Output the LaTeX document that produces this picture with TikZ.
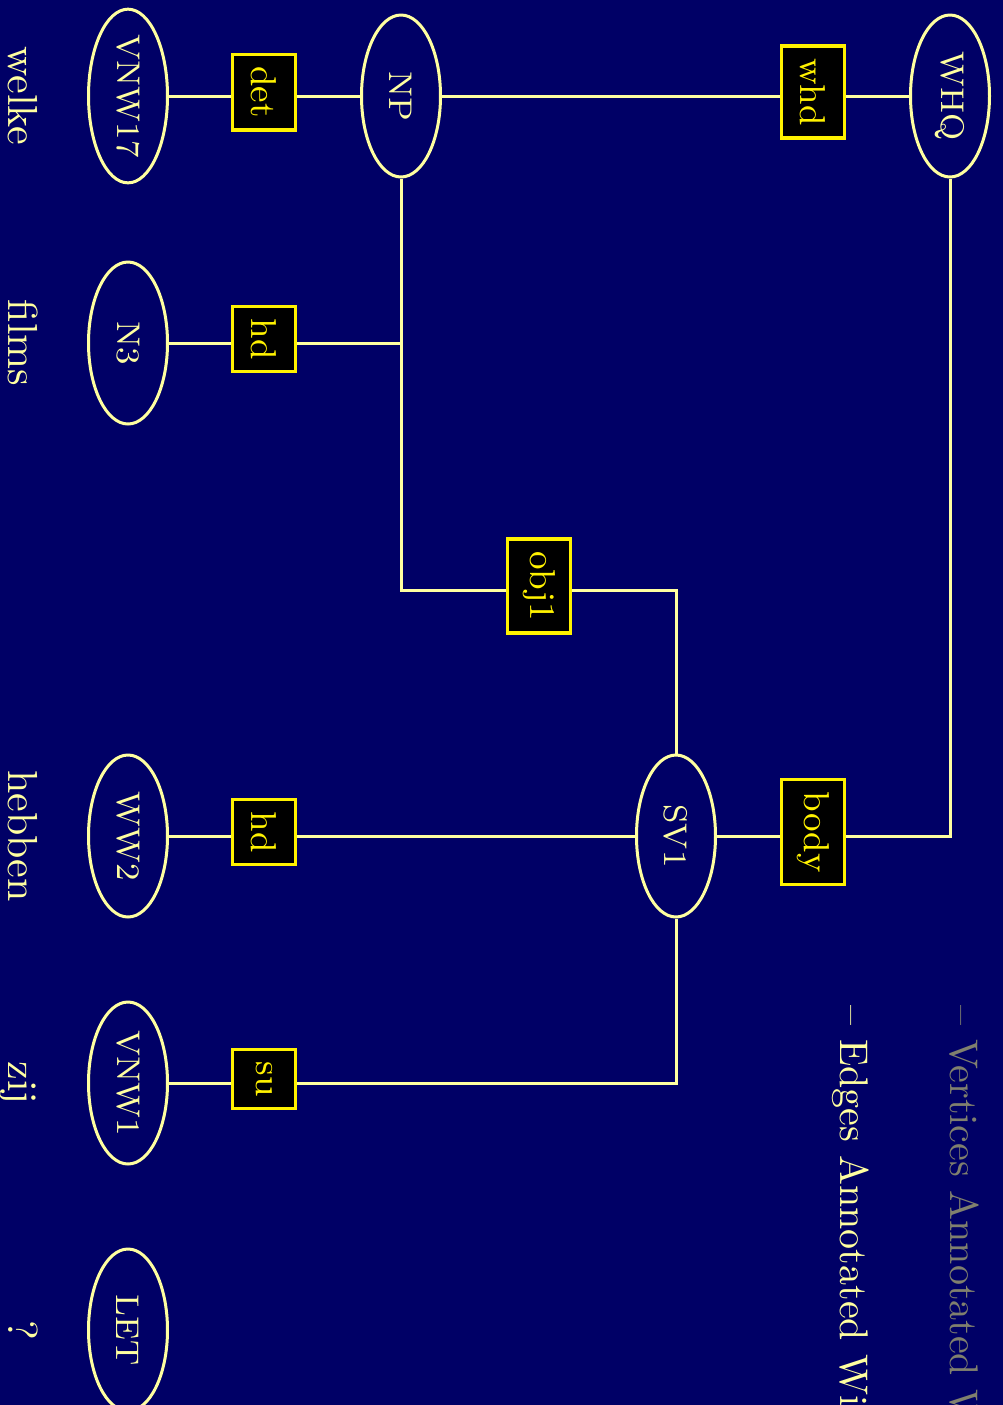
\documentclass[tikz,border=0pt]{standalone}
\usepackage{tikz}
\usetikzlibrary{shapes.geometric, positioning}
\definecolor{slidebg}{RGB}{0,0,102}
\definecolor{paleyellow}{RGB}{255,255,160}
\definecolor{dimtext}{RGB}{128,128,110}

\begin{document}
\begin{tikzpicture}[
    x=0.25pt, y=-0.25pt,
    vertex/.style={ellipse, draw=paleyellow, fill=slidebg, line width=0.75pt, text=paleyellow, rotate=-90, minimum width=40.5pt, minimum height=19.75pt, inner sep=0pt, font=\fontsize{8.2}{10}\selectfont},
    rel/.style={rectangle, draw=yellow, fill=black, line width=0.9pt, text=yellow, rotate=-90, minimum height=15.8pt, inner xsep=3pt, font=\fontsize{9}{11}\selectfont},
    word/.style={text=paleyellow, rotate=-90, anchor=base, inner sep=0pt, font=\fontsize{10.5}{12}\selectfont},
    itemline/.style={rotate=-90, anchor=base west, inner sep=0pt, font=\fontsize{10}{12}\selectfont},
    link/.style={draw=paleyellow, line width=0.75pt}
]

\useasboundingbox (0,0) rectangle (1003,1405);
\fill[slidebg] (0,0) rectangle (1003,1405);
\clip (0,0) rectangle (1003,1405);

\node[itemline, text=dimtext] (vertices) at (950,1005) {-- Vertices Annotated With};
\node[itemline, text=paleyellow] (edges) at (840,1005) {-- Edges Annotated With};

\node[vertex] (WHQ) at (950,96) {WHQ};
\node[vertex] (NP) at (401,96) {NP};
\node[vertex] (SV1) at (676,836) {SV1};
\node[vertex] (VNW17) at (128,96) {VNW17};
\node[vertex] (N3) at (128,343) {N3};
\node[vertex] (WW2) at (128,836) {WW2};
\node[vertex] (VNW1) at (128,1083) {VNW1};
\node[vertex] (LET) at (128,1330) {LET};

\node[word] (welke) at (8,96) {welke};
\node[word] (films) at (8,343) {films};
\node[word] (hebben) at (8,836) {hebben};
\node[word] (zij) at (8,1083) {zij};
\node[word] (qmark) at (8,1330) {?};

\coordinate (objbend) at (676,590);

\draw[link] (VNW17) -- (NP);
\draw[link] (NP) -- (WHQ);
\draw[link] (NP) |- (N3);
\draw[link] (NP) |- (objbend) -- (SV1);
\draw[link] (WHQ) |- (SV1);
\draw[link] (SV1) -- (WW2);
\draw[link] (SV1) |- (VNW1);

\node[rel] (det) at (264,92) {det};
\node[rel] (hdN3) at (264,339) {hd};
\node[rel] (whd) at (813,92) {whd};
\node[rel] (obj1) at (539,586) {obj1};
\node[rel] (body) at (813,832) {body};
\node[rel] (hdWW2) at (264,832) {hd};
\node[rel] (su) at (264,1079) {su};

\end{tikzpicture}
\end{document}
